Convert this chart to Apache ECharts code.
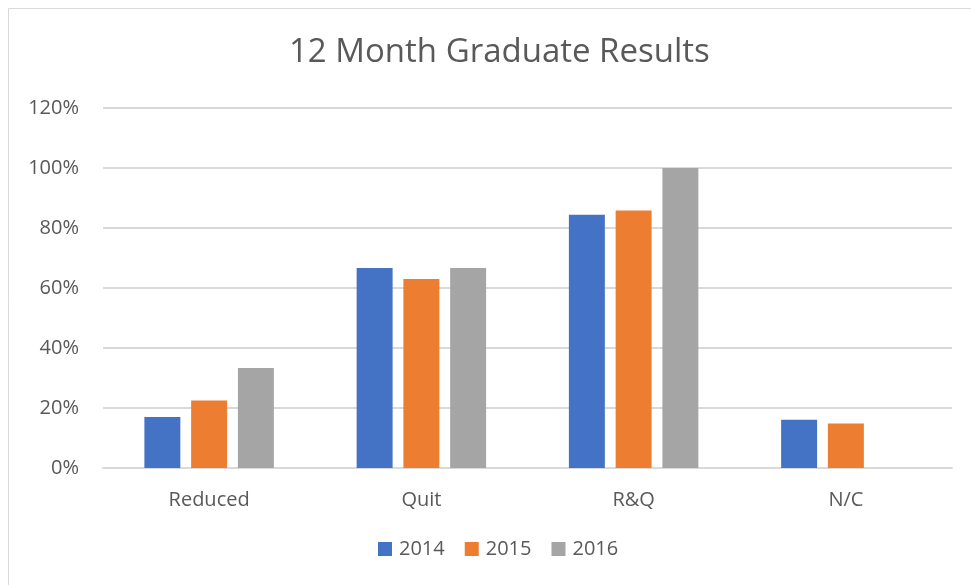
<!DOCTYPE html>
<html>
<head>
<meta charset="utf-8">
<script src="https://cdn.jsdelivr.net/npm/echarts@6/dist/echarts.min.js"></script>
<style>
  html, body { margin: 0; padding: 0; background: #fff; }
  #chart { width: 971px; height: 585px; }
</style>
</head>
<body>
<div id="chart"></div>
<script>
// chart data
var categories = ['Reduced', 'Quit', 'R&Q', 'N/C'];
var years = ['2014', '2015', '2016'];
var values2014 = [17, 66.7, 84.4, 16.1];
var values2015 = [22.5, 63, 85.8, 14.8];
var values2016 = [33.3, 66.7, 100, null];
var yTicks = [0, 20, 40, 60, 80, 100, 120];

var colors = ['#4472c4', '#ed7d31', '#a5a5a5'];
var fontName = 'Open Sans';

var chart = echarts.init(document.getElementById('chart'), null, { renderer: 'canvas' });

var seriesData = [values2014, values2015, values2016];

var option = {
  animation: false,
  color: colors,
  title: {
    text: '12 Month Graduate Results',
    left: 284,
    top: 31,
    textStyle: { fontFamily: fontName, fontSize: 33, fontWeight: 'normal', color: '#595959' }
  },
  graphic: [{
    type: 'rect',
    shape: { x: 8.5, y: 8.5, width: 1000, height: 1000 },
    style: { fill: 'none', stroke: '#d9d9d9', lineWidth: 1 },
    silent: true
  }],
  legend: {
    bottom: 21,
    left: 373,
    itemWidth: 14,
    itemHeight: 14,
    itemGap: 20,
    icon: 'rect',
    textStyle: { fontFamily: fontName, fontSize: 20, color: '#595959', padding: [0, 0, 0, 2] },
    data: years
  },
  grid: { left: 103, right: 19, top: 108, bottom: 117 },
  xAxis: {
    type: 'category',
    data: categories,
    axisLine: { lineStyle: { color: '#d9d9d9', width: 2 } },
    axisTick: { show: false },
    axisLabel: { fontFamily: fontName, fontSize: 20, color: '#595959', margin: 22 }
  },
  yAxis: {
    type: 'value',
    min: yTicks[0],
    max: yTicks[yTicks.length - 1],
    interval: 20,
    axisLine: { show: false },
    axisTick: { show: false },
    splitLine: { lineStyle: { color: '#d9d9d9', width: 2 } },
    axisLabel: {
      fontFamily: fontName, fontSize: 20, color: '#595959', margin: 24,
      formatter: function (v) { return v + '%'; }
    }
  },
  series: years.map(function (y, i) {
    return {
      name: y,
      type: 'bar',
      data: seriesData[i],
      barGap: '30%',
      barCategoryGap: '39%',
      itemStyle: { color: colors[i] }
    };
  })
};

chart.setOption(option);
</script>
</body>
</html>
